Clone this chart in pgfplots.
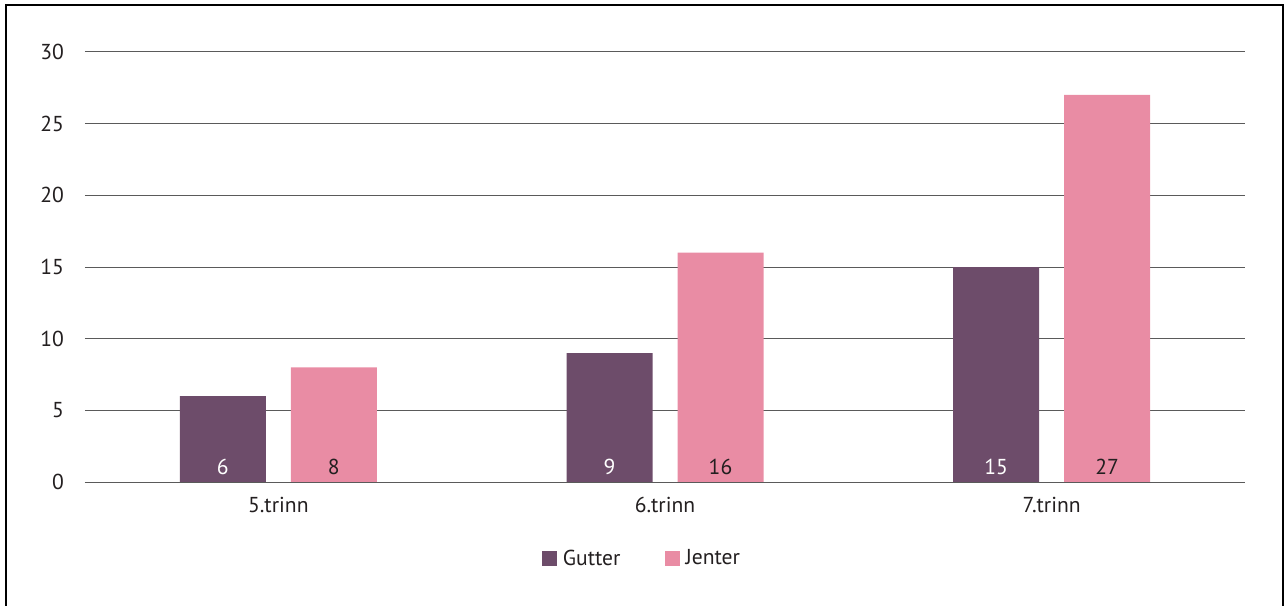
\documentclass[border=0pt]{standalone}
\usepackage{pgfplots}
\pgfplotsset{compat=1.18}
\usepackage{fontspec}
\setmainfont{PT Sans}
\definecolor{gutter}{HTML}{6D4C6A}
\definecolor{jenter}{HTML}{E98CA4}
\definecolor{txt}{HTML}{231F20}
\definecolor{gridc}{HTML}{5A5A5A}
\begin{document}
\fontsize{10.8}{12}\selectfont
\begin{tikzpicture}
\useasboundingbox (-42.5pt,-61.5pt) rectangle (599.5pt,241pt);
\draw[line width=1.2pt,black] (-39.5pt,-62pt) -- (-39.5pt,238.4pt) -- (598.9pt,238.4pt) -- (598.9pt,-62pt);
\begin{axis}[
  at={(0pt,0pt)}, anchor=south west,
  scale only axis, width=580pt, height=215pt,
  xmin=-0.5, xmax=2.5, ymin=0, ymax=30,
  xtick={0,1,2}, xticklabels={5.trinn,6.trinn,7.trinn},
  ytick={0,5,10,15,20,25,30},
  ymajorgrids, major grid style={gridc, line width=0.5pt},
  axis line style={draw=none},
  major tick length=0pt,
  /pgf/number format/assume math mode=true,
  tick label style={font=\fontsize{10.8}{12}\selectfont, text=txt},
  yticklabel style={xshift=-6.8pt},
  xticklabel style={yshift=-4pt},
  ybar, bar width=43pt,
  legend style={at={(0.481,-0.179)}, anchor=center, draw=none, legend columns=2,
    font=\fontsize{10.8}{12}\selectfont, text=txt,
    /tikz/every even column/.append style={column sep=20pt},
    /tikz/every odd column/.append style={column sep=1pt}},
  legend image code/.code={\fill[#1] (0pt,-3.75pt) rectangle (7.5pt,3.75pt);},
  visualization depends on=y \as \rawy,
  nodes near coords,
  every node near coord/.append style={shift={(axis direction cs:0,-\rawy)}, anchor=base, yshift=4pt, font=\fontsize{10.8}{12}\selectfont},
  clip=false,
]
\addplot[fill=gutter, draw=none, bar shift=-27.75pt, every node near coord/.append style={text=white}] coordinates {(0,6) (1,9) (2,15)};
\addlegendentry{Gutter}
\addplot[fill=jenter, draw=none, bar shift=27.75pt, every node near coord/.append style={text=txt}] coordinates {(0,8) (1,16) (2,27)};
\addlegendentry{Jenter}
\draw[gridc, line width=0.5pt] (axis cs:-0.5,0) -- (axis cs:2.5,0);
\end{axis}
\end{tikzpicture}
\end{document}
